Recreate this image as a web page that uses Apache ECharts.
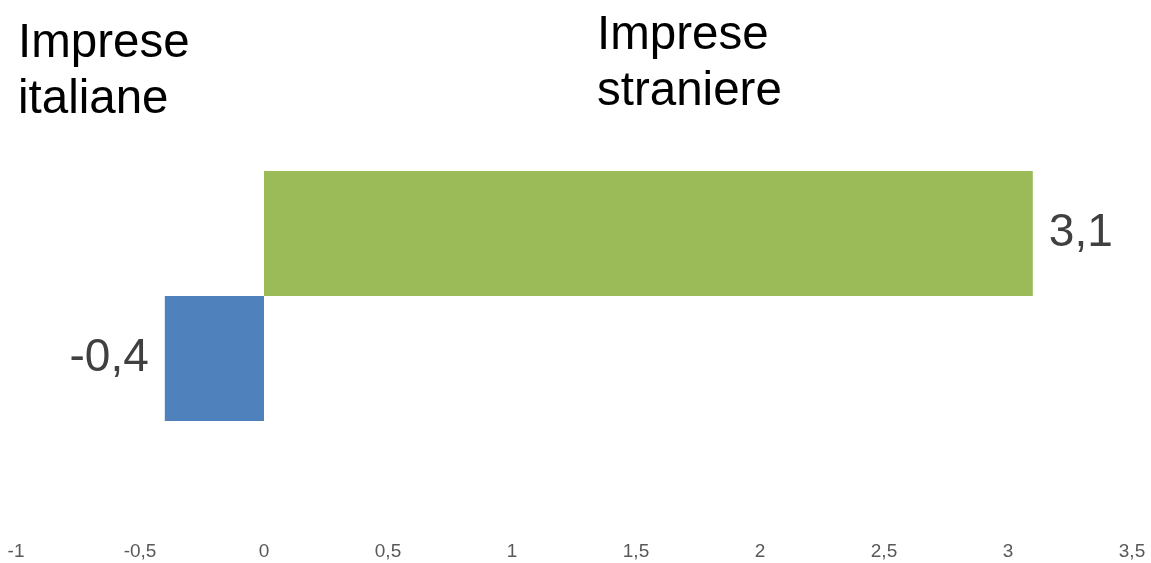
<!DOCTYPE html>
<html><head><meta charset="utf-8">
<script src="https://cdn.jsdelivr.net/npm/echarts@6/dist/echarts.min.js"></script>
<style>html,body{margin:0;padding:0;background:#fff}#c{width:1151px;height:563px}</style>
</head><body><div id="c"></div>
<script>
const categories = [''];
const seriesNames = ['Imprese italiane', 'Imprese straniere'];
const italianeValues = [-0.4];
const straniereValues = [3.1];
const xTicks = { min: -1, max: 3.5, step: 0.5 };

const fmt = v => String(v).replace('.', ',');
const chart = echarts.init(document.getElementById('c'));
chart.setOption({
  animation: false,
  backgroundColor: '#fff',
  title: [
    { text: 'Imprese\nitaliane', left: 18, top: 16, padding: 0,
      textStyle: { fontFamily: 'Liberation Sans', fontSize: 47.5, lineHeight: 56, fontWeight: 'normal', color: '#000' } },
    { text: 'Imprese\nstraniere', left: 597, top: 8, padding: 0,
      textStyle: { fontFamily: 'Liberation Sans', fontSize: 47.5, lineHeight: 56, fontWeight: 'normal', color: '#000' } }
  ],
  grid: { left: 16, right: 19, top: 56, bottom: 27, containLabel: false },
  xAxis: {
    type: 'value', min: xTicks.min, max: xTicks.max, interval: xTicks.step,
    axisLine: { show: false }, axisTick: { show: false }, splitLine: { show: false },
    axisLabel: { formatter: fmt, color: '#595959', fontSize: 19, fontFamily: 'Liberation Sans', margin: 6 }
  },
  yAxis: { type: 'category', data: categories, show: false },
  series: [
    { name: seriesNames[1], type: 'bar', data: straniereValues, barWidth: 125, barGap: '0%',
      itemStyle: { color: '#9BBB59' },
      label: { show: true, position: 'right', distance: 16, formatter: p => fmt(p.value),
        fontSize: 46, fontFamily: 'Liberation Sans', color: '#404040' } },
    { name: seriesNames[0], type: 'bar', data: italianeValues, barWidth: 125, barGap: '0%',
      itemStyle: { color: '#4F81BD' },
      label: { show: true, position: 'left', distance: 16, formatter: p => fmt(p.value),
        fontSize: 46, fontFamily: 'Liberation Sans', color: '#404040' } }
  ]
});
</script></body></html>
